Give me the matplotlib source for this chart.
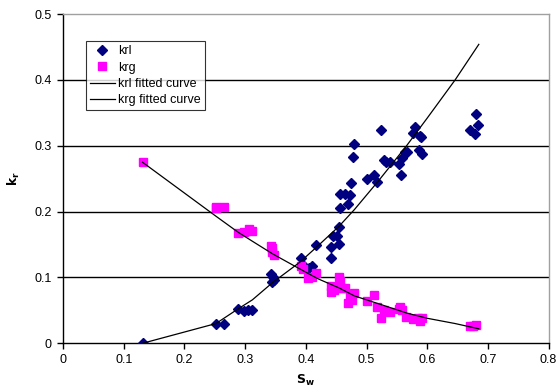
import matplotlib
matplotlib.use("Agg")
import matplotlib.pyplot as plt

plt.rcParams['font.family'] = ['Liberation Sans', 'DejaVu Sans']

# krl measurements
krl_sw = [0.131, 0.252, 0.266, 0.288, 0.299, 0.305, 0.312,
          0.343, 0.346, 0.344, 0.347,
          0.392, 0.396, 0.406, 0.411, 0.416, 0.441, 0.441, 0.445, 0.451, 0.455,
          0.455, 0.457, 0.469, 0.457, 0.465, 0.473, 0.474, 0.477, 0.480,
          0.500, 0.513, 0.517, 0.524, 0.529, 0.532, 0.539, 0.554, 0.557, 0.559,
          0.563, 0.566, 0.577, 0.580, 0.588, 0.590, 0.587, 0.592,
          0.670, 0.680, 0.684, 0.678]
krl_kr = [0.000, 0.029, 0.029, 0.052, 0.049, 0.050, 0.050,
          0.105, 0.100, 0.093, 0.096,
          0.130, 0.119, 0.115, 0.117, 0.150, 0.130, 0.147, 0.163, 0.163, 0.151,
          0.177, 0.205, 0.212, 0.226, 0.226, 0.225, 0.243, 0.283, 0.303,
          0.249, 0.255, 0.245, 0.324, 0.278, 0.275, 0.276, 0.272, 0.256, 0.281,
          0.291, 0.291, 0.320, 0.329, 0.315, 0.313, 0.293, 0.288,
          0.324, 0.348, 0.332, 0.318]

# krg measurements
krg_sw = [0.131, 0.252, 0.252, 0.266, 0.288, 0.299, 0.307, 0.312,
          0.343, 0.345, 0.344, 0.348,
          0.392, 0.396, 0.404, 0.411, 0.416,
          0.441, 0.441, 0.446, 0.455, 0.457, 0.452, 0.458, 0.465, 0.473, 0.479,
          0.476, 0.469, 0.500, 0.513, 0.517, 0.524, 0.529, 0.539, 0.554,
          0.555, 0.558, 0.565, 0.577, 0.585, 0.588, 0.592,
          0.670, 0.681, 0.676]
krg_kr = [0.275, 0.207, 0.205, 0.207, 0.167, 0.169, 0.174, 0.170,
          0.148, 0.144, 0.138, 0.134,
          0.117, 0.113, 0.099, 0.101, 0.107,
          0.087, 0.078, 0.081, 0.101, 0.095, 0.084, 0.084, 0.084, 0.072, 0.077,
          0.066, 0.061, 0.064, 0.074, 0.055, 0.038, 0.050, 0.048, 0.052,
          0.055, 0.051, 0.040, 0.037, 0.038, 0.034, 0.039,
          0.027, 0.028, 0.026]

# fitted curves
fit_sw = [0.131, 0.252, 0.288, 0.312, 0.345, 0.390, 0.420, 0.455, 0.480,
          0.520, 0.566, 0.600, 0.646, 0.685]
krl_fit = [0.000, 0.030, 0.052, 0.066, 0.092, 0.123, 0.148, 0.178, 0.203,
           0.247, 0.300, 0.342, 0.400, 0.454]
krg_fit = [0.275, 0.193, 0.169, 0.155, 0.136, 0.113, 0.098, 0.084, 0.072,
           0.060, 0.046, 0.038, 0.030, 0.022]

x_ticks = [0, 0.1, 0.2, 0.3, 0.4, 0.5, 0.6, 0.7, 0.8]
y_ticks = [0, 0.1, 0.2, 0.3, 0.4, 0.5]
x_labels = ['0', '0.1', '0.2', '0.3', '0.4', '0.5', '0.6', '0.7', '0.8']
y_labels = ['0', '0.1', '0.2', '0.3', '0.4', '0.5']

fig = plt.figure(figsize=(5.56, 3.91), dpi=100)
ax = fig.add_axes([0.1133, 0.122, 0.8734, 0.842])

for y in y_ticks[1:-1]:
    ax.axhline(y, color='black', lw=1.0, zorder=1)

ax.plot(krl_sw, krl_kr, linestyle='none', marker='D', color='#000080',
        markersize=4.6, label='krl', zorder=3)
ax.plot(krg_sw, krg_kr, linestyle='none', marker='s', color='#ff00ff',
        markersize=5.2, label='krg', zorder=3)
ax.plot(fit_sw, krl_fit, color='black', lw=0.9, label='krl fitted curve', zorder=4)
ax.plot(fit_sw, krg_fit, color='black', lw=0.9, label='krg fitted curve', zorder=4)

ax.set_xlim(0, 0.8)
ax.set_ylim(0, 0.5)
ax.set_xticks(x_ticks)
ax.set_yticks(y_ticks)
ax.set_xticklabels(x_labels)
ax.set_yticklabels(y_labels)
ax.tick_params(direction='out', length=4, width=1, labelsize=9, colors='black', pad=4)

ax.spines['left'].set_color('black')
ax.spines['bottom'].set_color('black')
ax.spines['top'].set_color('#a0a0a0')
ax.spines['right'].set_color('#a0a0a0')
for s in ax.spines.values():
    s.set_linewidth(1.0)

ax.set_xlabel(r'$\mathbf{S_w}$', fontsize=9, labelpad=5)
ax.set_ylabel(r'$\mathbf{k_r}$', fontsize=9, labelpad=9)

leg = ax.legend(loc='upper left', bbox_to_anchor=(0.047, 0.917), fontsize=9,
                frameon=True, fancybox=False, edgecolor='black',
                handlelength=2.0, handletextpad=0.3, borderpad=0.3,
                labelspacing=0.35, borderaxespad=0)
leg.get_frame().set_linewidth(0.8)

fig.savefig('out.png', dpi=100)
